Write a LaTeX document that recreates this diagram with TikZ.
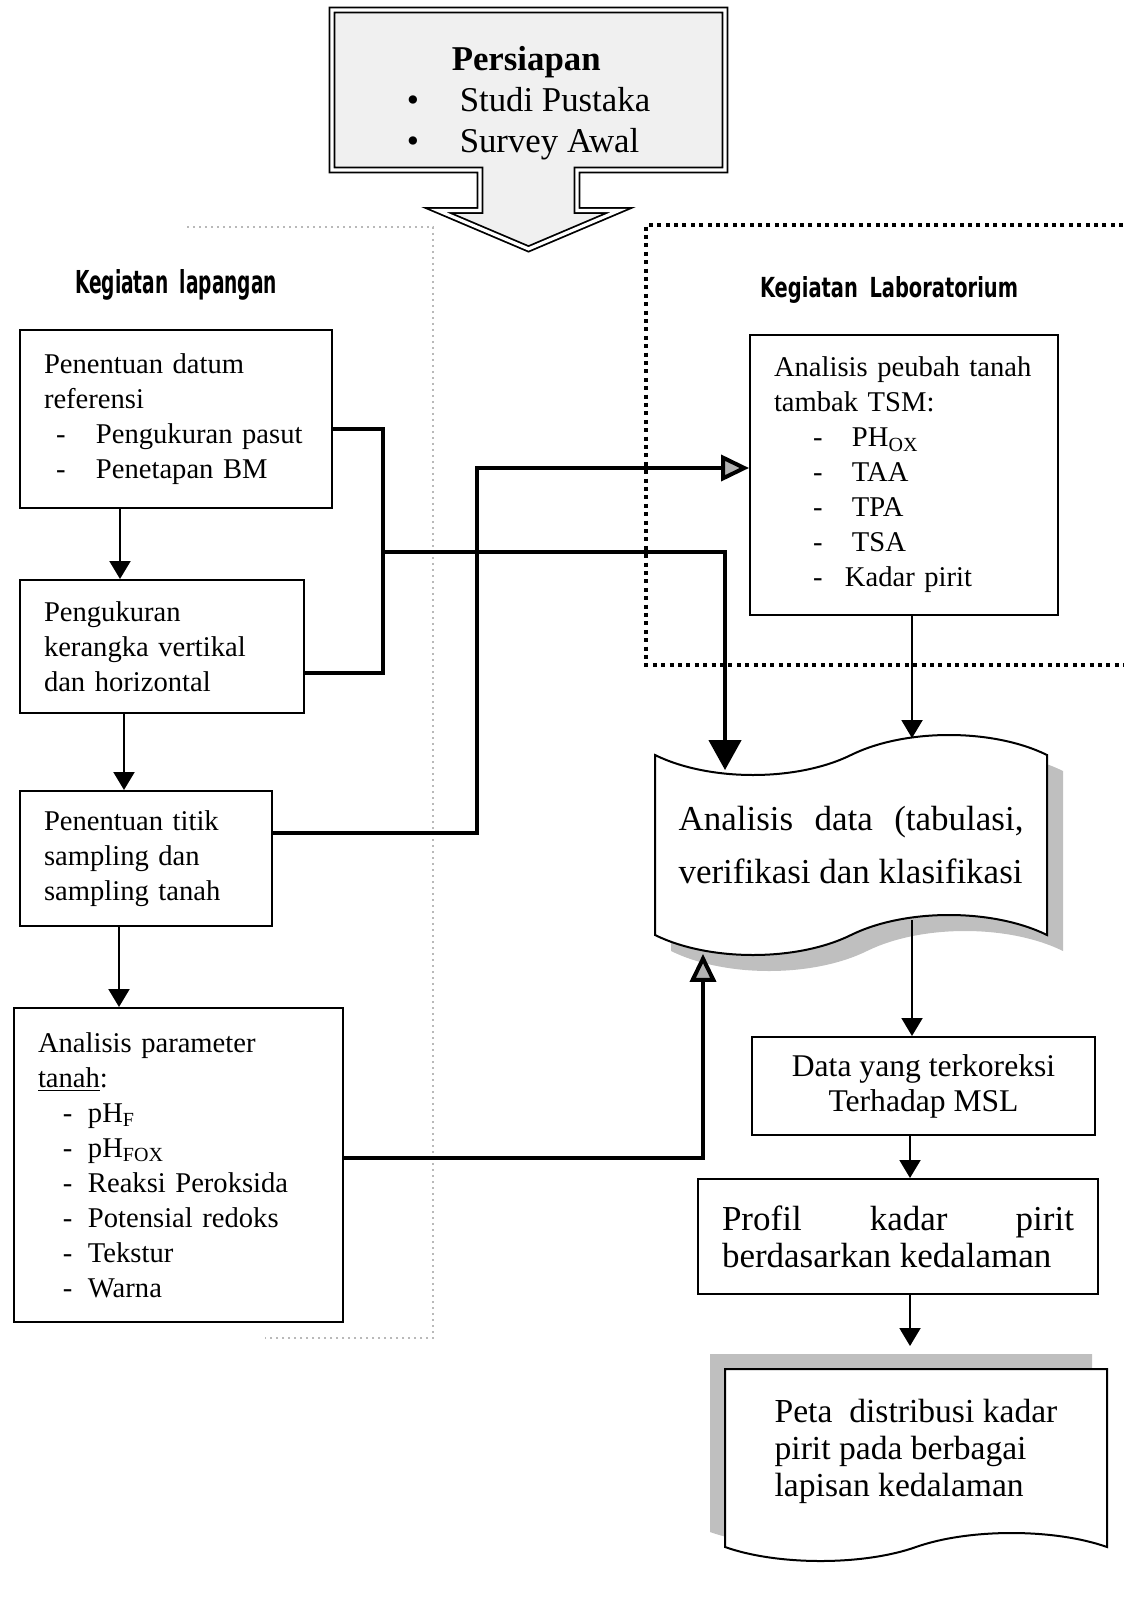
\documentclass[tikz,border=0pt]{standalone}
\usepackage{fontspec}
\setmainfont{Liberation Serif}
\newfontfamily\headfont{DejaVu Sans}
\usepackage{graphicx}
\usetikzlibrary{arrows.meta, positioning, shapes.arrows, shapes.symbols, shadows, calc}
\tikzset{
    stepbox/.style={draw, line width=1pt, inner xsep=12pt, inner ysep=0pt, align=left,
      font=\fontsize{14.3}{17.5}\selectfont},
    prepbox/.style={arrow box, draw, double, double distance=1.6pt, line width=0.9pt,
      fill=gray!12, minimum width=196.5pt, minimum height=80pt, inner sep=0pt,
      arrow box arrows={south:39pt}, arrow box shaft width=48.5pt,
      arrow box head extend=21pt, arrow box tip angle=134,
      align=left, font=\fontsize{17.4}{20.5}\selectfont},
    wavebox/.style={tape, draw, line width=1pt, fill=white, align=left},
    flowarrow/.style={-{Triangle[length=9pt,width=10.5pt]}, line width=1pt},
    linkline/.style={line width=2.2pt},
    bigarrow/.style={-{Triangle[length=15pt,width=16pt]}, line width=2.2pt},
    grayarrow/.style={-{Triangle[length=14pt,width=13pt,fill=gray!60]}, line width=2pt},
    labframe/.style={line width=2pt, dash pattern=on 2pt off 2.2pt},
    fieldframe/.style={gray!55, line width=0.9pt, dash pattern=on 1pt off 2pt},
    headtext/.style={inner sep=0pt}
}
\newcommand{\ditem}[3]{\makebox[#1][l]{\hspace*{#2}-}#3}
\newcommand{\jline}[2]{\makebox[#1][s]{#2}}

\begin{document}
\begin{tikzpicture}[x=0.5pt, y=-0.5pt]
  \useasboundingbox (0,0) rectangle (1123,1598);

  % frames of the two groups of activities
  \draw[fieldframe] (187,227) -- (433,227) -- (433,1338) -- (265,1338);
  \draw[labframe] (1140,225) -- (646,225) -- (646,665) -- (1140,665);

  \node[prepbox] (prep) at (528.5,90) {
      \rule{0pt}{25pt}\hspace*{22.5pt}\textbf{Persiapan}\\
      \makebox[26.5pt][l]{\textbullet}Studi Pustaka\\
      \makebox[26.5pt][l]{\textbullet}Survey Awal};

  \node[headtext] (lapHead) at (176,285)
    {\resizebox{101pt}{12pt}{\headfont\bfseries Kegiatan\hspace{0.6em}lapangan}};
  \node[headtext] (labHead) at (889,290)
    {\resizebox{129pt}{10.5pt}{\headfont\bfseries Kegiatan\hspace{0.6em}Laboratorium}};

  % field column
  \node[stepbox, text width=132pt, minimum width=156pt, minimum height=89pt]
    (datum) at (176,419) {
      Penentuan datum\\referensi\\
      \ditem{26pt}{6pt}{Pengukuran pasut}\\
      \ditem{26pt}{6pt}{Penetapan BM}};
  \node[stepbox, text width=118pt, minimum width=142pt, minimum height=66.5pt]
    (frame) at (162,646.5) {Pengukuran\\kerangka vertikal\\dan horizontal};
  \node[stepbox, text width=102pt, minimum width=126pt, minimum height=67.5pt]
    (sampling) at (146,858.5) {Penentuan titik\\sampling dan\\sampling tanah};
  \node[stepbox, text width=140.5pt, minimum width=164.5pt, minimum height=157pt]
    (param) at (178.5,1165) {
      Analisis parameter\\\underline{tanah}:\\
      \ditem{25pt}{12.5pt}{pH\textsubscript{F}}\\
      \ditem{25pt}{12.5pt}{pH\textsubscript{FOX}}\\
      \ditem{25pt}{12.5pt}{Reaksi Peroksida}\\
      \ditem{25pt}{12.5pt}{Potensial redoks}\\
      \ditem{25pt}{12.5pt}{Tekstur}\\
      \ditem{25pt}{12.5pt}{Warna}};

  % laboratory and processing column
  \node[stepbox, text width=130pt, minimum width=154pt, minimum height=140pt]
    (peubah) at (904,475) {
      Analisis peubah tanah\\tambak TSM:\\
      \ditem{39pt}{19.5pt}{PH\textsubscript{OX}}\\
      \ditem{39pt}{19.5pt}{TAA}\\
      \ditem{39pt}{19.5pt}{TPA}\\
      \ditem{39pt}{19.5pt}{TSA}\\
      \ditem{35.5pt}{19.5pt}{Kadar pirit}};
  \node[wavebox, tape bend top=in and out, tape bend bottom=in and out,
    tape bend height=20pt, minimum width=196pt, minimum height=110pt,
    drop shadow={shadow xshift=8pt, shadow yshift=-8pt, fill=gray!50, opacity=1},
    font=\fontsize{17.5}{26.5}\selectfont]
    (analisis) at (851,845) {\jline{172.5pt}{Analisis data (tabulasi,}\\verifikasi dan klasifikasi};
  \node[stepbox, align=center, minimum width=171.5pt, minimum height=49pt,
    font=\fontsize{15.8}{17.5}\selectfont]
    (koreksi) at (923.5,1086) {Data yang terkoreksi\\Terhadap MSL};
  \node[stepbox, minimum width=200pt, minimum height=57.5pt,
    font=\fontsize{17.5}{18.5}\selectfont]
    (profil) at (898,1236.5) {\jline{176pt}{Profil kadar pirit}\\berdasarkan kedalaman};
  \node[wavebox, tape bend top=none, tape bend bottom=in and out,
    tape bend height=14pt, minimum width=191pt, minimum height=96pt,
    drop shadow={shadow xshift=-7.5pt, shadow yshift=7.5pt, fill=gray!50, opacity=1},
    font=\fontsize{16.8}{18.5}\selectfont]
    (peta) at (916,1451) {Peta\ \ distribusi kadar\\pirit pada berbagai\\lapisan kedalaman};

  % thick links into the data analysis
  \coordinate (jn) at (383,552);
  \coordinate (fIn) at ([xshift=-63pt,yshift=-8pt]analisis.north);
  \coordinate (fBot) at ([xshift=-74pt,yshift=-9pt]analisis.south);
  \coordinate (cTurn) at (477,468);
  \draw[linkline] ([yshift=-5pt]datum.east) -| (jn) |- ([yshift=-13.25pt]frame.east);
  \draw[bigarrow] (jn) -| (fIn);
  \draw[grayarrow] ([yshift=12.75pt]sampling.east) -| (cTurn) -- (cTurn -| peubah.west);
  \draw[grayarrow] ([yshift=3.5pt]param.east) -| (fBot);

  % thin flow arrows
  \coordinate (fTop) at ([xshift=30.5pt,yshift=8pt]analisis.north);
  \coordinate (fOut) at ([xshift=30.5pt,yshift=8pt]analisis.south);
  \coordinate (gOut) at ([xshift=-6.75pt]koreksi.south);
  \coordinate (hOut) at ([xshift=6pt]profil.south);
  \draw[flowarrow] ([xshift=50.5pt]datum.south west) -- ([xshift=50.5pt]frame.north west);
  \draw[flowarrow] ([xshift=52.5pt]frame.south west) -- ([xshift=52.5pt]sampling.north west);
  \draw[flowarrow] ([xshift=50pt]sampling.south west) -- ([xshift=53pt]param.north west);
  \draw[flowarrow] (peubah.south -| fTop) -- (fTop);
  \draw[flowarrow] (fOut) -- (fOut |- koreksi.north);
  \draw[flowarrow] (gOut) -- (gOut |- profil.north);
  \draw[flowarrow, shorten >=11pt] (hOut) -- (hOut |- peta.north);
\end{tikzpicture}
\end{document}
